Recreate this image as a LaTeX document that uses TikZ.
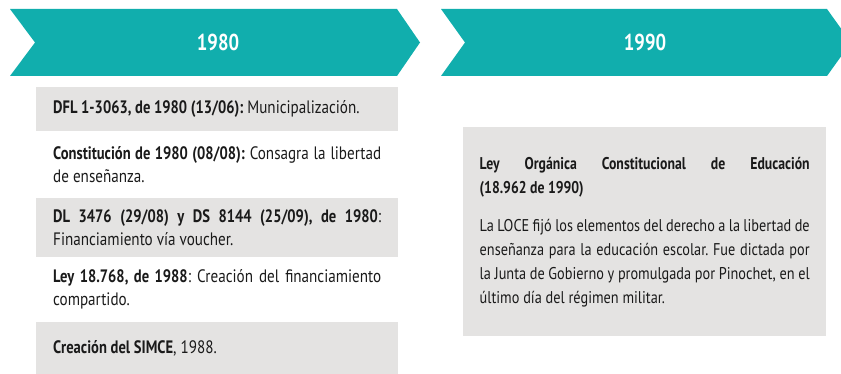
\documentclass[tikz,border=0pt]{standalone}
\usepackage{fontspec}
\setmainfont[FakeStretch=0.84, BoldFeatures={FakeStretch=0.81}]{PT Sans}
\usetikzlibrary{positioning}
\definecolor{tealhead}{HTML}{11AEAD}
\definecolor{rowgray}{HTML}{E4E3E2}
\definecolor{inktext}{HTML}{1A1A1A}
\hyphenpenalty=10000
\exhyphenpenalty=10000
\frenchspacing

\begin{document}
\begin{tikzpicture}[x=1pt, y=-1pt, node distance=0pt]

		\tikzstyle{year}=[text=white, font=\bfseries\fontsize{23}{24}\selectfont]
		\tikzstyle{row}=[text width=328pt, inner xsep=17pt, inner ysep=0pt,
		align=justify, text=inktext, font=\fontsize{18}{23.5}\selectfont]
		\tikzstyle{shade}=[fill=rowgray]

		\useasboundingbox (0,0) rectangle (841,374);

		% Year banners
		\fill[tealhead] (10,9) -- (397,9) -- (420,42.5) -- (397,76) -- (10,76)
		-- (35,42.5) -- cycle;
		\fill[tealhead] (441,9) -- (827,9) -- (851,42.5) -- (827,76) -- (441,76)
		-- (465,42.5) -- cycle;
		\node[year] (Y1) at (218,42.5) {1980};
		\node[year] (Y2) at (645,42.5) {1990};

		% 1980 column
		\node[row, shade, anchor=north west, minimum height=44pt] (R1) at (36,87)
		{\textbf{DFL 1-3063, de 1980 (13/06):} Municipalización.};
		\node[row, minimum height=66pt, below=of R1] (R2)
		{\textbf{Constitución de 1980 (08/08):} Consagra la libertad\linebreak
		de enseñanza.};
		\node[row, shade, minimum height=59pt, below=of R2] (R3)
		{\textbf{DL 3476 (29/08) y DS 8144 (25/09), de 1980}:\linebreak
		Financiamiento vía voucher.};
		\node[row, minimum height=64pt, below=of R3] (R4)
		{\textbf{Ley 18.768, de 1988}: Creación del financiamiento\linebreak
		compartido.};
		\node[row, shade, minimum height=54pt, below=of R4] (R5)
		{\textbf{Creación del SIMCE}, 1988.};

		% 1990 column
		\node[row, shade, anchor=north west, minimum height=209pt,
		text width=330pt, inner xsep=16.5pt,
		font=\fontsize{17}{24}\selectfont] (L1) at (463,127)
		{\textbf{Ley Orgánica Constitucional de Educación\linebreak
		(18.962 de 1990)}\\[14pt]
		La LOCE fijó los elementos del derecho a la libertad de\linebreak
		enseñanza para la educación escolar. Fue dictada por\linebreak
		la Junta de Gobierno y promulgada por Pinochet, en el\linebreak
		último día del régimen militar.};

\end{tikzpicture}
\end{document}
